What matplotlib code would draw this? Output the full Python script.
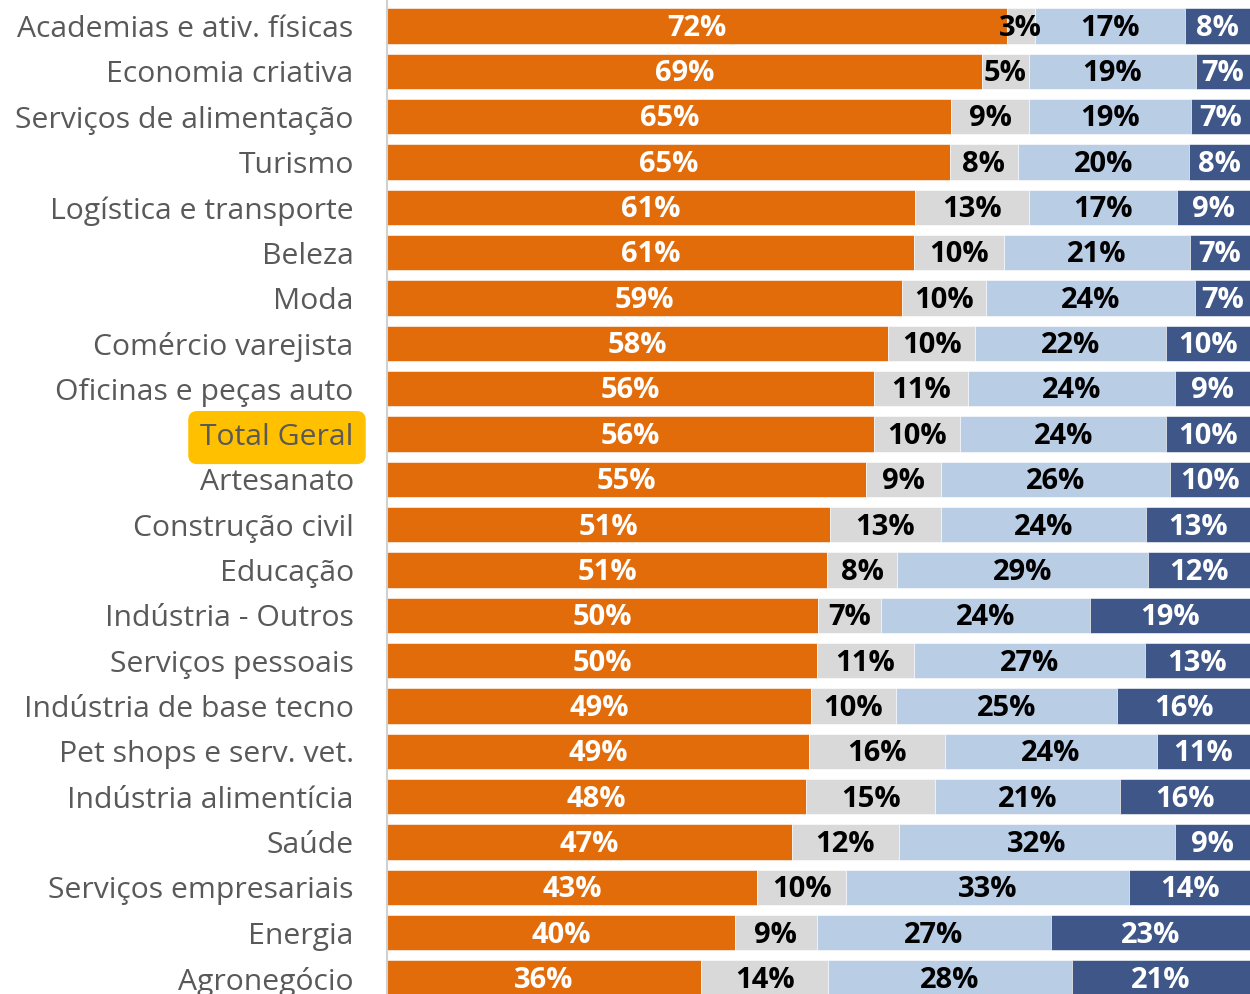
import matplotlib.pyplot as plt
import numpy as np

categories = [
    "Academias e ativ. físicas", "Economia criativa", "Serviços de alimentação",
    "Turismo", "Logística e transporte", "Beleza", "Moda", "Comércio varejista",
    "Oficinas e peças auto", "Total Geral", "Artesanato", "Construção civil",
    "Educação", "Indústria - Outros", "Serviços pessoais", "Indústria de base tecno",
    "Pet shops e serv. vet.", "Indústria alimentícia", "Saúde",
    "Serviços empresariais", "Energia", "Agronegócio",
]

# printed percentages
lbl_orange = [72, 69, 65, 65, 61, 61, 59, 58, 56, 56, 55, 51, 51, 50, 50, 49, 49, 48, 47, 43, 40, 36]
lbl_gray = [3, 5, 9, 8, 13, 10, 10, 10, 11, 10, 9, 13, 8, 7, 11, 10, 16, 15, 12, 10, 9, 14]
lbl_light = [17, 19, 19, 20, 17, 21, 24, 22, 24, 24, 26, 24, 29, 24, 27, 25, 24, 21, 32, 33, 27, 28]
lbl_dark = [8, 7, 7, 8, 9, 7, 7, 10, 9, 10, 10, 13, 12, 19, 13, 16, 11, 16, 9, 14, 23, 21]

# unrounded shares
seg_orange = [71.8, 68.9, 65.4, 65.2, 61.2, 61.1, 59.7, 58.1, 56.4, 56.4, 55.5, 51.3, 51.0, 49.9, 49.8, 49.1, 48.9, 48.6, 46.9, 42.9, 40.3, 36.4]
seg_gray = [3.3, 5.5, 9.0, 7.9, 13.2, 10.4, 9.7, 10.0, 10.9, 10.0, 8.7, 12.9, 8.1, 7.3, 11.3, 9.9, 15.8, 14.9, 12.4, 10.3, 9.5, 14.7]
seg_light = [17.4, 19.3, 18.8, 19.8, 17.1, 21.5, 24.2, 22.2, 24.0, 23.9, 26.5, 23.7, 29.1, 24.3, 26.7, 25.6, 24.5, 21.4, 32.0, 32.8, 27.1, 28.3]
seg_dark = [7.5, 6.3, 6.8, 7.1, 8.5, 7.0, 6.4, 9.7, 8.7, 9.7, 9.3, 12.1, 11.8, 18.5, 12.2, 15.4, 10.8, 15.1, 8.7, 14.0, 23.1, 20.6]

colors = ["#E36C0A", "#D9D9D9", "#B9CDE5", "#3E5688"]
text_colors = ["white", "black", "black", "white"]

plt.rcParams['font.family'] = ['Open Sans', 'DejaVu Sans']

fig = plt.figure(figsize=(12.5, 9.94), dpi=100)
ax = fig.add_axes([387 / 1250, 0, 1 - 387 / 1250, 1])

y = np.arange(len(categories))
segs = [seg_orange, seg_gray, seg_light, seg_dark]
lbls = [lbl_orange, lbl_gray, lbl_light, lbl_dark]
left = np.zeros(len(categories))
for vals, labels, col, tcol in zip(segs, lbls, colors, text_colors):
    vals = np.array(vals)
    ax.barh(y, vals, left=left, height=0.78, color=col, edgecolor="white", linewidth=0.4)
    for yi, l, v, t in zip(y, left, vals, labels):
        ax.text(l + v / 2, yi + 0.05, f"{t}%", ha="center", va="center",
                color=tcol, fontsize=21, fontweight="bold")
    left += vals

ax.set_xlim(0, 100)
ax.set_ylim(21.35, -0.574)
ax.set_xticks([])
ax.set_yticks(y)
ax.set_yticklabels(categories, fontsize=21.7, color="#595959")
ax.tick_params(axis="y", length=0, pad=24)
for s in ["top", "right", "bottom"]:
    ax.spines[s].set_visible(False)
ax.spines["left"].set_color("#D0D0D0")
ax.spines["left"].set_linewidth(1.5)

# highlight the overall total
tl = ax.get_yticklabels()[categories.index("Total Geral")]
tl.set_bbox(dict(boxstyle="round,pad=0.4,rounding_size=0.3", facecolor="#FFC000", edgecolor="none"))

fig.savefig("out.png", dpi=100)
